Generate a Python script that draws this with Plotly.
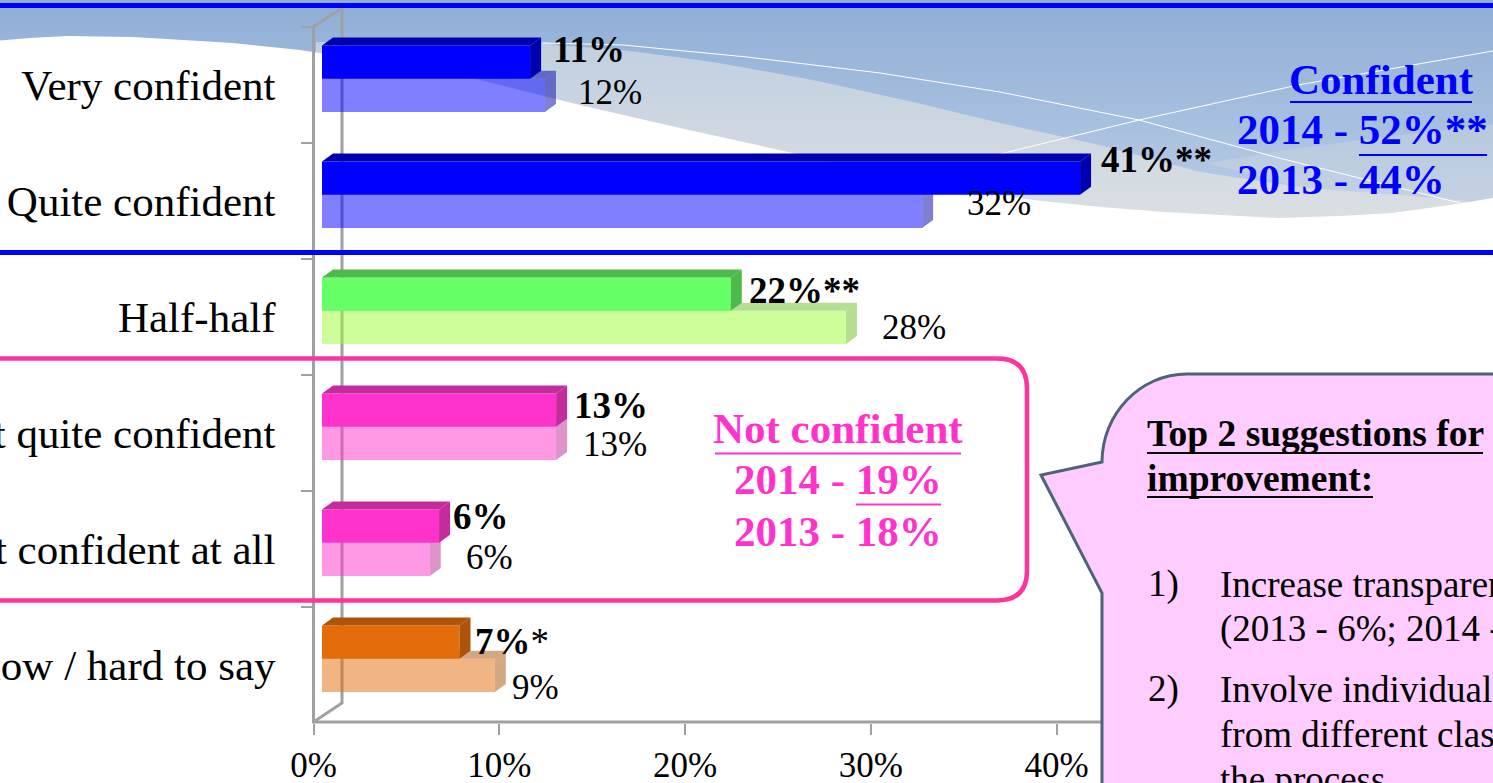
import numpy as np
import plotly.graph_objects as go

W, H = 1493, 783
categories = ["Very confident", "Quite confident", "Half-half", "Not quite confident",
              "Not confident at all", "Don't know / hard to say"]
values_2014 = [11.2, 40.8, 22.0, 12.6, 6.3, 7.4]
values_2013 = [12.0, 32.3, 28.2, 12.6, 5.8, 9.3]
labels_2014 = ["<b>11%</b>", "<b>41%**</b>", "<b>22%**</b>", "<b>13%</b>", "<b>6%</b>", "<b>7%</b>*"]
labels_2013 = ["12%", "32%", "28%", "13%", "6%", "9%"]
x_ticks = [0, 10, 20, 30, 40]
x_tick_labels = ["0%", "10%", "20%", "30%", "40%"]

colors_2014 = ["#0000FF", "#0000FF", "#66FF66", "#FF33CC", "#FF33CC", "#E46C0A"]
dark_2014 = ["#0000B0", "#0000B0", "#4CBB4C", "#C42C9C", "#C42C9C", "#AE5408"]
colors_2013 = ["rgba(0,0,255,.5)", "rgba(0,0,255,.5)", "rgba(153,255,51,.5)", "rgba(255,51,204,.5)",
               "rgba(255,51,204,.5)", "rgba(228,108,10,.5)"]
dark_2013 = ["rgba(0,0,170,.5)", "rgba(0,0,170,.5)", "rgba(110,190,40,.5)", "rgba(190,40,150,.5)",
             "rgba(190,40,150,.5)", "rgba(170,80,8,.5)"]

# layout constants (pixels)
X0, PXU = 313.5, 18.58
Y_TOP, Y_BOT = 26.5, 722.5
BAND = (Y_BOT - Y_TOP) / 6
BASE = 8.5 / PXU
DX, DY = 11 / PXU, 8 / BAND
OFF14, OFF13, BARW = -39 / BAND, -5.8 / BAND, 33.3 / BAND
FONT = "Liberation Serif"
BLUE, PINK, MAGENTA = "#0000FF", "#FF3399", "#FF33CC"
lab14_dx = [21, 19, 16, 16, 12, 14]
lab14_dy = [35, 41, 26, 27, 32, 23]
lab13_dx = [31, 43, 34, 25, 34, 15]
lab13_dy = [-8, -3, -11, -12, -9, -23]


def PX(p):
    return p / W


def PY(p):
    return 1 - p / H


def paper_path(pts, fill=None, line=None, lw=0, layer="below", close=True):
    d = "M" + " L".join(f"{PX(a):.5f},{PY(b):.5f}" for a, b in pts) + (" Z" if close else "")
    return dict(type="path", path=d, xref="paper", yref="paper", fillcolor=fill or "rgba(0,0,0,0)",
                line=dict(color=line or "rgba(0,0,0,0)", width=lw), layer=layer)


def hexmix(a, b, t):
    ca = [int(a[i:i + 2], 16) for i in (1, 3, 5)]
    cb = [int(b[i:i + 2], 16) for i in (1, 3, 5)]
    return "#" + "".join(f"{round(u + (v - u) * t):02X}" for u, v in zip(ca, cb))


shapes = []
# banner: light swoosh bands, then blue gradient above the upper curve, then white below
upper_y = [44, 50, 62, 80, 102, 123, 145, 172, 187, 200, 210]
upper_x = [543, 623, 713, 813, 913, 1000, 1100, 1200, 1300, 1460, 1520]
STEP = 3
for y in range(36, 222, STEP):
    c = hexmix("#C0CFE0", "#DBDFE3", (y - 36) / 184)
    shapes.append(paper_path([(0, y), (W + 5, y), (W + 5, y + STEP + 1), (0, y + STEP + 1)], fill=c))
for y in range(0, 210, STEP):
    c = hexmix("#8FAED6", "#B9CCE6", y / 208)
    if y + STEP <= 44:
        poly = [(0, y), (W + 5, y), (W + 5, y + STEP), (0, y + STEP)]
    else:
        xa = float(np.interp(y, upper_y, upper_x))
        xb = float(np.interp(y + STEP, upper_y, upper_x))
        poly = [(xa, y), (W + 5, y), (W + 5, y + STEP), (xb, y + STEP)]
    shapes.append(paper_path(poly, fill=c))
    if 42 <= y <= 54:
        shapes.append(paper_path([(0, y), (316, y), (316, y + STEP), (0, y + STEP)], fill=c))
# lighter rising swoosh on the right
shapes.append(paper_path([(1207, 163), (1300, 148), (1400, 135), (1500, 124), (1500, 200), (1460, 201), (1300, 187)],
                         fill="rgba(225,225,220,.28)"))
white_edge = [(-5, 41), (30, 38), (67, 36), (133, 37), (233, 43), (300, 50), (400, 65), (480, 80), (580, 105),
              (680, 128), (793, 153), (900, 180), (1033, 200), (1100, 207), (1165, 212), (1279, 218), (1340, 216),
              (1392, 213), (1450, 205), (1500, 197)]
shapes.append(paper_path(white_edge + [(W + 5, 260), (-5, 260)], fill="#FFFFFF"))
shapes.append(paper_path([(543, 43), (623, 45), (747, 57), (880, 73), (1000, 92), (1139, 120), (1279, 158), (1460, 203)],
                         line="#FFFFFF", lw=1, close=False))
shapes.append(paper_path([(1000, 154), (1139, 120), (1298, 85), (1493, 51)], line="#FFFFFF", lw=1, close=False))
# blue rules
for y in (5.5, 252.5):
    shapes.append(dict(type="line", xref="paper", yref="paper", x0=0, x1=1, y0=PY(y), y1=PY(y),
                       line=dict(color=BLUE, width=5), layer="above"))
# 3-D frame: back wall and front axis lines
GRAY = "#A0A0A0"
shapes.append(paper_path([(313.5, 26.5), (342, 8), (342, 703), (313.5, 722)], line=GRAY, lw=3, close=False))
shapes.append(paper_path([(313.5, 26.5), (313.5, 722), (W + 5, 722)], line=GRAY, lw=3, close=False))

# 3-D faces of the bars
for i in range(6):
    v13, v14 = BASE + values_2013[i], BASE + values_2014[i]
    y0, y1 = i + OFF13, i + OFF13 + BARW
    p = f"M{BASE},{y0} L{BASE + DX},{y0 - DY} L{v13 + DX},{y0 - DY} L{v13},{y0} Z"
    shapes.append(dict(type="path", path=p, xref="x", yref="y", fillcolor=dark_2013[i], line_width=0, layer="below"))
    p = f"M{v13},{y0} L{v13 + DX},{y0 - DY} L{v13 + DX},{y1 - DY} L{v13},{y1} Z"
    shapes.append(dict(type="path", path=p, xref="x", yref="y", fillcolor=dark_2013[i], line_width=0, layer="below"))
    y0, y1 = i + OFF14, i + OFF14 + BARW
    p = f"M{BASE},{y0} L{BASE + DX},{y0 - DY} L{v14 + DX},{y0 - DY} L{v14},{y0} Z"
    shapes.append(dict(type="path", path=p, xref="x", yref="y", fillcolor=dark_2014[i], line_width=0, layer="above"))
    p = f"M{v14},{y0} L{v14 + DX},{y0 - DY} L{v14 + DX},{y1 - DY} L{v14},{y1} Z"
    shapes.append(dict(type="path", path=p, xref="x", yref="y", fillcolor=dark_2014[i], line_width=0, layer="above"))

# not-confident outline
r = 30
shapes.append(dict(type="path", xref="paper", yref="paper", layer="above",
                   path=(f"M{PX(-20)},{PY(358.5)} L{PX(1027 - r)},{PY(358.5)} "
                         f"Q{PX(1027)},{PY(358.5)} {PX(1027)},{PY(358.5 + r)} "
                         f"L{PX(1027)},{PY(600.5 - r)} Q{PX(1027)},{PY(600.5)} {PX(1027 - r)},{PY(600.5)} "
                         f"L{PX(-20)},{PY(600.5)}"),
                   line=dict(color=PINK, width=4.5), fillcolor="rgba(0,0,0,0)"))
# callout
shapes.append(dict(type="path", xref="paper", yref="paper", layer="above",
                   path=(f"M{PX(1520)},{PY(374)} L{PX(1187)},{PY(374)} "
                         f"C{PX(1140)},{PY(374)} {PX(1102)},{PY(414)} {PX(1102)},{PY(462)} "
                         f"L{PX(1041)},{PY(475)} L{PX(1102)},{PY(593)} L{PX(1102)},{PY(800)} L{PX(1520)},{PY(800)} Z"),
                   line=dict(color="#4F6378", width=3), fillcolor="#FFCCFF"))
# underlines
for x0, x1, y, c, lw in [(1290, 1472, 102, BLUE, 2), (1359, 1487, 155, BLUE, 2), (715, 961, 453.5, MAGENTA, 2),
                         (856, 941, 504.5, MAGENTA, 2), (1147, 1483, 453, "#000000", 2), (1147, 1373, 497, "#000000", 2)]:
    shapes.append(dict(type="line", xref="paper", yref="paper", x0=PX(x0), x1=PX(x1), y0=PY(y), y1=PY(y),
                       line=dict(color=c, width=lw), layer="above"))

fig = go.Figure()
fig.add_bar(y=categories, x=values_2013, base=BASE, orientation="h", offset=OFF13, width=BARW,
            marker=dict(color=colors_2013, line_width=0), name="2013", hoverinfo="skip")
fig.add_bar(y=categories, x=values_2014, base=BASE, orientation="h", offset=OFF14, width=BARW,
            marker=dict(color=colors_2014, line_width=0), name="2014", hoverinfo="skip")

ann = []
for i in range(6):
    ann.append(dict(x=BASE + values_2014[i], y=i, xref="x", yref="y", text=labels_2014[i], showarrow=False,
                    xanchor="left", yanchor="middle", xshift=lab14_dx[i], yshift=lab14_dy[i],
                    font=dict(family=FONT, size=37, color="#000000")))
    ann.append(dict(x=BASE + values_2013[i], y=i, xref="x", yref="y", text=labels_2013[i], showarrow=False,
                    xanchor="left", yanchor="middle", xshift=lab13_dx[i], yshift=lab13_dy[i],
                    font=dict(family=FONT, size=35, color="#000000")))


def txt(x, y, t, size, color="#000000", anchor="left"):
    ann.append(dict(x=PX(x), y=PY(y), xref="paper", yref="paper", text=t, showarrow=False, xanchor=anchor,
                    yanchor="middle", font=dict(family=FONT, size=size, color=color)))


txt(1381, 79, "<b>Confident</b>", 43, BLUE, "center")
txt(1235, 129, "<b>2014 - 52%**</b>", 43, BLUE)
txt(1235, 180, "<b>2013 - 44%</b>", 43, BLUE)
txt(838, 429, "<b>Not confident</b>", 43, MAGENTA, "center")
txt(838, 480, "<b>2014 - 19%</b>", 43, MAGENTA, "center")
txt(838, 531, "<b>2013 - 18%</b>", 43, MAGENTA, "center")
txt(1145, 433, "<b>Top 2 suggestions for</b>", 37.5)
txt(1145, 478, "<b>improvement:</b>", 37.5)
txt(1146, 584, "1)", 37)
txt(1218, 584, "Increase transparency", 37)
txt(1218, 629, "(2013 - 6%; 2014 -", 37)
txt(1146, 689, "2)", 37)
txt(1218, 689, "Involve individuals", 37)
txt(1218, 734, "from different classes", 37)
txt(1218, 779, "the process", 37)

fig.update_layout(
    width=W, height=H, margin=dict(l=0, r=0, t=0, b=0), autosize=False, showlegend=False,
    barmode="overlay", paper_bgcolor="#FFFFFF", plot_bgcolor="rgba(0,0,0,0)",
    shapes=shapes, annotations=ann, font=dict(family=FONT, color="#000000"),
    xaxis=dict(domain=[X0 / W, 1], range=[0, (W - X0) / PXU], tickvals=x_ticks, ticktext=x_tick_labels,
               showgrid=False, zeroline=False, showline=False,
               ticks="outside", ticklen=11, tickwidth=2, tickcolor=GRAY, tickfont=dict(family=FONT, size=35),
               anchor="y", automargin=False, fixedrange=True),
    yaxis=dict(domain=[1 - Y_BOT / H, 1 - Y_TOP / H], type="category", categoryorder="array",
               categoryarray=categories, autorange=False, range=[5.5, -0.5], tickson="boundaries",
               showgrid=False, zeroline=False, showline=False,
               ticks="outside", ticklen=12, tickwidth=2, tickcolor=GRAY, tickfont=dict(family=FONT, size=43),
               ticklabelstandoff=37, anchor="x", automargin=False, fixedrange=True),
)
fig.write_html("out.html", config={"displayModeBar": False},
               post_script="document.body.style.margin='0';document.body.style.overflow='hidden';")
